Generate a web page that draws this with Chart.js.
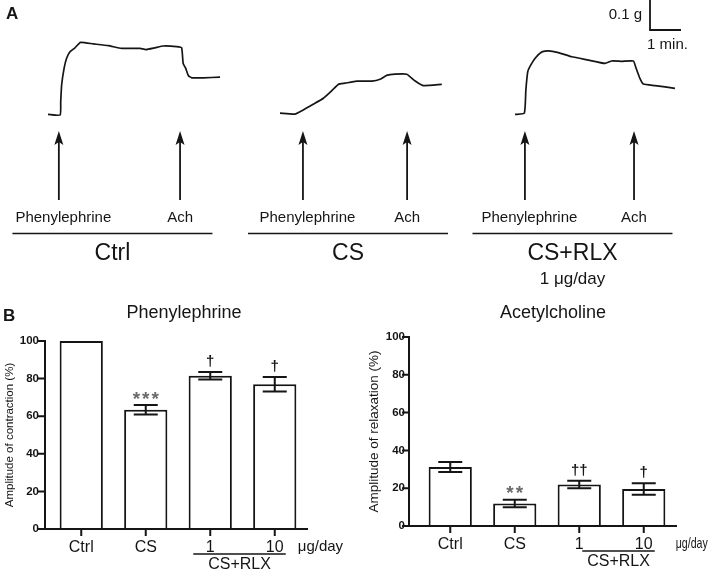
<!DOCTYPE html>
<html>
<head>
<meta charset="utf-8">
<script src="https://cdn.jsdelivr.net/npm/chart.js@4.4.1/dist/chart.umd.min.js"></script>
<style>
html, body { margin:0; padding:0; background:#fff; }
#fig { position:relative; width:709px; height:574px; overflow:hidden; }
#fig canvas { position:absolute; }
</style>
</head>
<body>
<div id="fig">
  <canvas id="trCtrl" width="235" height="295" style="left:0;top:0"></canvas>
  <canvas id="trCS" width="235" height="295" style="left:235px;top:0"></canvas>
  <canvas id="trRLX" width="239" height="295" style="left:470px;top:0"></canvas>
  <canvas id="barPhe" width="355" height="279" style="left:0;top:295px"></canvas>
  <canvas id="barAch" width="354" height="279" style="left:355px;top:295px"></canvas>
</div>
<script>
// ---- panel A: tension traces (time in min, tension in g above baseline)
var ctrlT = [0, 0.39, 0.41, 0.44, 0.52, 0.60, 0.71, 0.87, 1.05, 1.46, 1.95, 2.38, 2.97, 3.16, 3.45, 3.72, 4.15, 4.31, 4.36, 4.44, 4.53, 4.64, 5.01, 5.55];
var ctrlG = [0.002, 0, 0.044, 0.100, 0.156, 0.189, 0.211, 0.224, 0.242, 0.237, 0.231, 0.222, 0.222, 0.218, 0.224, 0.230, 0.228, 0.224, 0.172, 0.156, 0.131, 0.124, 0.124, 0.126];
var csT = [0, 0.48, 0.75, 1.07, 1.40, 1.67, 1.88, 2.10, 2.47, 2.96, 3.23, 3.44, 3.71, 4.09, 4.35, 4.62, 5.22];
var csG = [0.006, 0.003, 0.017, 0.036, 0.056, 0.081, 0.102, 0.106, 0.113, 0.113, 0.119, 0.132, 0.136, 0.136, 0.114, 0.098, 0.102];
var rlxT = [0, 0.30, 0.35, 0.41, 0.48, 0.65, 0.86, 1.07, 1.40, 1.83, 2.37, 2.90, 3.12, 3.44, 3.82, 3.89, 4.03, 4.14, 4.52, 5.16];
var rlxG = [0.002, 0.006, 0.083, 0.144, 0.161, 0.189, 0.210, 0.214, 0.208, 0.194, 0.183, 0.172, 0.180, 0.179, 0.180, 0.161, 0.122, 0.103, 0.098, 0.089];
var pheTimes = [0.35, 0.74, 0.32];   // phenylephrine added
var achTimes = [4.26, 4.10, 3.84];   // acetylcholine added
var traceNames = ['Ctrl', 'CS', 'CS+RLX'];
var traceSubs = ['', '', '1 \u03bcg/day'];

// ---- panel B: bar charts (% of ctrl, mean and SEM)
var groups = ['Ctrl', 'CS', '1', '10'];
var pheMean = [100, 63.4, 81.5, 77];
var pheSem = [0, 2.5, 2, 3.8];
var pheSig = ['', '***', '\u2020', '\u2020'];
var achMean = [31.2, 11.9, 22, 19.6];
var achSem = [2.6, 2, 2, 3];
var achSig = ['', '**', '\u2020\u2020', '\u2020'];
var yTicks = [0, 20, 40, 60, 80, 100];

var FONT = '"Liberation Sans", Arial, Helvetica, sans-serif';
var INK = '#151515';
Chart.defaults.font.family = FONT;
Chart.defaults.color = INK;

// trace layout: 1 min = 31 px, 0.1 g = 30 px, baseline at y=115
var PX_MIN = 31, PX_G = 300, BASE_Y = 115;

function arrow(ctx, x, yBot, yTip) {
  ctx.lineWidth = 1.8;
  ctx.beginPath();
  ctx.moveTo(x, yBot);
  ctx.lineTo(x, yTip + 10);
  ctx.stroke();
  ctx.beginPath();
  ctx.moveTo(x, yTip);
  ctx.lineTo(x - 4.5, yTip + 14);
  ctx.lineTo(x, yTip + 11);
  ctx.lineTo(x + 4.5, yTip + 14);
  ctx.closePath();
  ctx.fill();
}

var tracePlugin = {
  id: 'trace',
  afterDraw: function(chart, args, o) {
    var ctx = chart.ctx, xs = chart.scales.x, ys = chart.scales.y;
    var xp = xs.getPixelForValue(o.phe), xa = xs.getPixelForValue(o.ach);
    ctx.save();
    ctx.strokeStyle = INK;
    ctx.fillStyle = INK;
    arrow(ctx, xp, 200, 131);
    arrow(ctx, xa, 200, 131);
    ctx.textAlign = 'center';
    ctx.textBaseline = 'middle';
    ctx.font = '15px ' + FONT;
    ctx.fillText('Phenylephrine', xp + 4.5, 218);
    ctx.fillText('Ach', xa, 218);
    var cx = (xp + xa) / 2 - 7;
    ctx.lineWidth = 1.6;
    ctx.beginPath();
    ctx.moveTo(cx - 100, 233.5);
    ctx.lineTo(cx + 100, 233.5);
    ctx.stroke();
    ctx.font = '23px ' + FONT;
    ctx.fillText(o.name, cx, 254);
    if (o.sub) {
      ctx.font = '17px ' + FONT;
      ctx.fillText(o.sub, cx, 279);
    }
    if (o.letter) {
      ctx.font = 'bold 17px ' + FONT;
      ctx.textAlign = 'left';
      ctx.fillText(o.letter, 6, 14);
    }
    if (o.scaleBar) {
      var bx = o.scaleBar[0], by = o.scaleBar[1];
      var h = ys.getPixelForValue(0) - ys.getPixelForValue(0.1);
      var w = xs.getPixelForValue(1) - xs.getPixelForValue(0);
      ctx.lineWidth = 1.8;
      ctx.beginPath();
      ctx.moveTo(bx, by - h);
      ctx.lineTo(bx, by);
      ctx.lineTo(bx + w, by);
      ctx.stroke();
      ctx.font = '15px ' + FONT;
      ctx.textAlign = 'right';
      ctx.fillText('0.1 g', bx - 8, by - 15);
      ctx.textAlign = 'center';
      ctx.fillText('1 min.', bx + w / 2 + 2, by + 15);
    }
    ctx.restore();
  }
};

function traceChart(id, startPx, t, g, i, extra) {
  var cv = document.getElementById(id);
  var pts = t.map(function(v, k) { return {x: v, y: g[k]}; });
  var opts = {phe: pheTimes[i], ach: achTimes[i], name: traceNames[i], sub: traceSubs[i]};
  for (var k in extra) opts[k] = extra[k];
  return new Chart(cv, {
    type: 'scatter',
    data: {datasets: [{data: pts, showLine: true, borderColor: INK, borderWidth: 1.7,
      pointRadius: 0, tension: 0.15, fill: false, clip: false}]},
    options: {
      responsive: false, animation: false, events: [],
      layout: {padding: 0},
      plugins: {legend: {display: false}, tooltip: {enabled: false}, trace: opts},
      scales: {
        x: {type: 'linear', display: false, min: -startPx / PX_MIN, max: (cv.width - startPx) / PX_MIN},
        y: {type: 'linear', display: false, min: (BASE_Y - cv.height) / PX_G, max: BASE_Y / PX_G}
      }
    },
    plugins: [tracePlugin]
  });
}

traceChart('trCtrl', 48, ctrlT, ctrlG, 0, {letter: 'A'});
traceChart('trCS', 45, csT, csG, 1, {});
traceChart('trRLX', 45, rlxT, rlxG, 2, {scaleBar: [180, 30]});

// prism-style axes, error bars and significance marks
var prismPlugin = {
  id: 'prism',
  afterDatasetsDraw: function(chart, args, o) {
    var ctx = chart.ctx, ys = chart.scales.y, ca = chart.chartArea;
    var meta = chart.getDatasetMeta(0);
    var mean = chart.data.datasets[0].data;
    var y0 = ys.getPixelForValue(0), ax = ca.left - o.gap;
    ctx.save();
    ctx.strokeStyle = INK;
    ctx.fillStyle = INK;
    ctx.lineWidth = 2;
    ctx.lineCap = 'square';
    ctx.beginPath();
    ctx.moveTo(ax, ys.getPixelForValue(100));
    ctx.lineTo(ax, y0);
    ctx.lineTo(ca.right, y0);
    ys.ticks.forEach(function(t) {
      var py = ys.getPixelForValue(t.value);
      ctx.moveTo(ax - 6, py);
      ctx.lineTo(ax, py);
    });
    meta.data.forEach(function(b) {
      ctx.moveTo(b.x, y0);
      ctx.lineTo(b.x, y0 + 6);
    });
    ctx.stroke();
    ctx.lineCap = 'butt';
    // error bars
    meta.data.forEach(function(b, i) {
      var s = o.sem[i];
      if (!s) return;
      var yt = ys.getPixelForValue(mean[i] + s), yb = ys.getPixelForValue(mean[i] - s);
      ctx.beginPath();
      ctx.moveTo(b.x, yt); ctx.lineTo(b.x, yb);
      ctx.moveTo(b.x - 12, yt); ctx.lineTo(b.x + 12, yt);
      ctx.moveTo(b.x - 12, yb); ctx.lineTo(b.x + 12, yb);
      ctx.stroke();
    });
    // significance
    ctx.textAlign = 'center';
    ctx.textBaseline = 'alphabetic';
    meta.data.forEach(function(b, i) {
      var lab = o.sig[i];
      if (!lab) return;
      var yt = ys.getPixelForValue(mean[i] + o.sem[i]);
      if (lab.charAt(0) === '*') {
        ctx.fillStyle = '#6a6a6a';
        ctx.font = 'bold 19px ' + FONT;
        ctx.letterSpacing = '2px';
        ctx.fillText(lab, b.x + 1, yt - 0.5);
        ctx.letterSpacing = '0px';
      } else {
        ctx.fillStyle = INK;
        ctx.font = 'bold 15px ' + FONT;
        ctx.fillText(lab, b.x, yt - 6);
      }
    });
    // dose bracket
    ctx.fillStyle = INK;
    var c2 = meta.data[2].x, c3 = meta.data[3].x;
    var l0 = c2 + o.lineFrom, l1 = c3 + 11;
    ctx.lineWidth = 1.5;
    ctx.beginPath();
    ctx.moveTo(l0, y0 + 25); ctx.lineTo(l1, y0 + 25);
    ctx.stroke();
    ctx.textBaseline = 'middle';
    ctx.font = '16px ' + FONT;
    ctx.fillText('CS+RLX', (l0 + l1) / 2, y0 + 35.5);
    ctx.textAlign = 'left';
    ctx.font = '15px ' + FONT;
    ctx.fillText('\u03bcg/day', c3 + o.unitFrom, y0 + 18, o.unitWidth);
    // titles
    ctx.textAlign = 'center';
    ctx.font = '18px ' + FONT;
    ctx.fillText(o.title, o.titleX, 18);
    if (o.letter) {
      ctx.textAlign = 'left';
      ctx.font = 'bold 17px ' + FONT;
      ctx.fillText(o.letter, 3, 21);
    }
    ctx.restore();
  }
};

function barChart(id, mean, sem, sig, yTitle, cfg) {
  var cv = document.getElementById(id);
  return new Chart(cv, {
    type: 'bar',
    data: {labels: groups, datasets: [{data: mean, backgroundColor: '#fff', borderColor: INK,
      borderWidth: 2, borderSkipped: 'bottom', categoryPercentage: 1, barPercentage: 0.67, clip: false}]},
    options: {
      responsive: false, animation: false, events: [],
      layout: {padding: {top: cfg.top, right: cfg.right, left: 0, bottom: 0}},
      plugins: {legend: {display: false}, tooltip: {enabled: false},
        prism: {sem: sem, sig: sig, gap: cfg.gap, lineFrom: cfg.lineFrom, unitFrom: cfg.unitFrom,
          unitWidth: cfg.unitWidth, title: cfg.title, titleX: cfg.titleX, letter: cfg.letter}},
      scales: {
        x: {grid: {display: false, drawTicks: false}, border: {display: false},
          ticks: {font: {size: 16}, padding: 9, color: INK},
          afterFit: function(s) { s.height = cfg.xh; }},
        y: {min: 0, max: 100, afterBuildTicks: function(s) { s.ticks = yTicks.map(function(v) { return {value: v}; }); },
          grid: {display: false, drawTicks: false}, border: {display: false},
          ticks: {font: {size: 11.5, weight: 'bold'}, padding: cfg.tickPad, color: INK},
          title: {display: true, text: yTitle, font: {size: cfg.titleSize}, padding: {top: cfg.titlePad, bottom: 0}, color: INK},
          afterFit: function(s) { s.width = cfg.left; }}
      }
    },
    plugins: [prismPlugin]
  });
}

barChart('barPhe', pheMean, pheSem, pheSig, 'Amplitude of contraction (%)',
  {top: 46, right: 48, left: 49, xh: 45, gap: 4, tickPad: 10, titleSize: 11.5, titlePad: 3,
   lineFrom: -17, unitFrom: 23, unitWidth: 60, title: 'Phenylephrine', titleX: 184, letter: 'B'});
barChart('barAch', achMean, achSem, achSig, 'Amplitude of relaxation (%)',
  {top: 42, right: 33, left: 63, xh: 48, gap: 9, tickPad: 13, titleSize: 13.5, titlePad: 11,
   lineFrom: 3, unitFrom: 32, unitWidth: 32, title: 'Acetylcholine', titleX: 198, letter: ''});
</script>
</body>
</html>
